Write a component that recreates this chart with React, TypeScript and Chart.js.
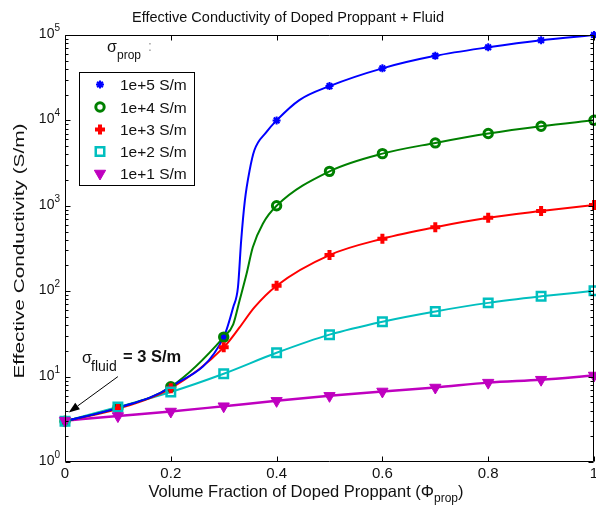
import React, { useEffect, useRef } from 'react';
import { Chart, registerables } from 'chart.js';
import { drawPoint } from 'chart.js/helpers';

Chart.register(...registerables);

// ---------- data ----------
const phi = [0, 0.1, 0.2, 0.3, 0.4, 0.5, 0.6, 0.7, 0.8, 0.9, 1.0];
const seriesLabels = ['1e+5 S/m', '1e+4 S/m', '1e+3 S/m', '1e+2 S/m', '1e+1 S/m'];

const sigma1e5 = [3.0, 4.3, 7.6, 29, 10000, 25200, 40700, 57000, 71800, 87000, 100000];
const sigma1e4 = [3.0, 4.3, 7.6, 29, 1000, 2530, 4080, 5450, 7020, 8550, 10050];
const sigma1e3 = [3.0, 4.2, 7.3, 22, 116, 265, 411, 562, 724, 867, 1020];
const sigma1e2 = [3.0, 4.4, 6.6, 10.8, 19, 31, 44, 58, 73, 87, 101];
const sigma1e1 = [3.05, 3.45, 3.9, 4.5, 5.2, 5.95, 6.7, 7.45, 8.5, 9.2, 10.3];

// extra samples of the smooth curves, read along the steep part
const curvePhi1e5 = [0.318, 0.327, 0.333, 0.34, 0.349, 0.358, 0.381, 0.443];
const curveSigma1e5 = [65, 112, 390, 1150, 2600, 4470, 7330, 17300];
const curvePhi1e4 = [0.318, 0.33, 0.343, 0.355, 0.374];
const curveSigma1e4 = [41, 78, 158, 327, 617];
const curvePhi1e3 = [0.33, 0.358];
const curveSigma1e3 = [37.7, 64.6];
const curvePhi1e2: number[] = [];
const curveSigma1e2: number[] = [];
const curvePhi1e1: number[] = [];
const curveSigma1e1: number[] = [];

const xTicks = [0, 0.2, 0.4, 0.6, 0.8, 1];
const xTickLabels = ['0', '0.2', '0.4', '0.6', '0.8', '1'];
const yTickExponents = ['0', '1', '2', '3', '4', '5'];

const titleText = 'Effective Conductivity of Doped Proppant + Fluid';
const yTitleText = 'Effective Conductivity (S/m)';
const xTitleMain = 'Volume Fraction of Doped Proppant (\u03A6';
const xTitleSub = 'prop';
const xTitleEnd = ')';
const legendHeadSym = '\u03C3';
const legendHeadSub = 'prop';
const fluidSym = '\u03C3';
const fluidSub = 'fluid';
const fluidText = '= 3 S/m';
const arrowTail = { x: 0.1, y: 10 };
const arrowTip = { x: 0.007, y: 3.8 };

// ---------- styling ----------
const FONT = '"Liberation Sans", Arial, Helvetica, sans-serif';
const TEXT = '#111';

const styles = [
  { color: '#0000ff', pointStyle: 'star', radius: 4, borderWidth: 2, fill: '#0000ff', rotation: 0, lineWidth: 2 },
  { color: '#008000', pointStyle: 'circle', radius: 4.2, borderWidth: 3, fill: 'rgba(0,0,0,0)', rotation: 0, lineWidth: 2 },
  { color: '#ff0000', pointStyle: 'cross', radius: 5, borderWidth: 4, fill: '#ff0000', rotation: 0, lineWidth: 2 },
  { color: '#00bfbf', pointStyle: 'rect', radius: 6, borderWidth: 2.5, fill: 'rgba(0,0,0,0)', rotation: 0, lineWidth: 2 },
  { color: '#bf00bf', pointStyle: 'triangle', radius: 6.5, borderWidth: 1, fill: '#bf00bf', rotation: 180, lineWidth: 2.5 },
];

const markerValues = [sigma1e5, sigma1e4, sigma1e3, sigma1e2, sigma1e1];
const curvePhis = [curvePhi1e5, curvePhi1e4, curvePhi1e3, curvePhi1e2, curvePhi1e1];
const curveSigmas = [curveSigma1e5, curveSigma1e4, curveSigma1e3, curveSigma1e2, curveSigma1e1];

type Part = { t: string; font: string; dy?: number; color?: string };

function drawRich(ctx: CanvasRenderingContext2D, parts: Part[], x: number, y: number, align: 'left' | 'center' | 'right') {
  let total = 0;
  const widths = parts.map((p) => {
    ctx.font = p.font;
    const w = ctx.measureText(p.t).width;
    total += w;
    return w;
  });
  let cx = align === 'center' ? x - total / 2 : align === 'right' ? x - total : x;
  ctx.textAlign = 'left';
  ctx.textBaseline = 'alphabetic';
  parts.forEach((p, i) => {
    ctx.font = p.font;
    ctx.fillStyle = p.color || TEXT;
    ctx.fillText(p.t, cx, y + (p.dy || 0));
    cx += widths[i];
  });
}

const decorPlugin = {
  id: 'decor',
  afterDatasetsDraw(chart: any) {
    const { ctx, chartArea: a, scales } = chart;
    const xs = scales.x;
    const ys = scales.y;
    const L = Math.round(a.left) + 0.5;
    const R = Math.round(a.right) - 0.5;
    const T = Math.round(a.top) + 0.5;
    const B = Math.round(a.bottom) - 0.5;
    ctx.save();

    // frame
    ctx.strokeStyle = '#000';
    ctx.lineWidth = 1;
    ctx.beginPath();
    ctx.rect(L, T, R - L, B - T);
    ctx.stroke();

    // x ticks
    ctx.beginPath();
    xTicks.forEach((v) => {
      const px = Math.round(xs.getPixelForValue(v)) + 0.5;
      ctx.moveTo(px, B);
      ctx.lineTo(px, B - 5);
      ctx.moveTo(px, T);
      ctx.lineTo(px, T + 5);
    });
    // y ticks (major + minor)
    for (let e = 0; e <= 5; e++) {
      for (let m = 1; m <= 9; m++) {
        if (e === 5 && m > 1) break;
        const v = m * Math.pow(10, e);
        const py = Math.round(ys.getPixelForValue(v)) + 0.5;
        const len = m === 1 ? 5 : 3;
        ctx.moveTo(L, py);
        ctx.lineTo(L + len, py);
        ctx.moveTo(R, py);
        ctx.lineTo(R - len, py);
      }
    }
    ctx.stroke();

    // x tick labels
    ctx.fillStyle = TEXT;
    ctx.font = `15px ${FONT}`;
    ctx.textAlign = 'center';
    ctx.textBaseline = 'alphabetic';
    xTicks.forEach((v, i) => {
      const px = xs.getPixelForValue(v);
      ctx.fillText(xTickLabels[i], px, 478);
    });

    // y tick labels 10^k
    yTickExponents.forEach((ex, i) => {
      const py = ys.getPixelForValue(Math.pow(10, i));
      ctx.font = `10px ${FONT}`;
      const sw = ctx.measureText(ex).width;
      const right = 60;
      ctx.textAlign = 'right';
      ctx.fillStyle = TEXT;
      ctx.fillText(ex, right, py - 4);
      ctx.font = `14px ${FONT}`;
      ctx.fillText('10', right - sw, py + 3);
    });

    // title
    ctx.font = `14.5px ${FONT}`;
    ctx.textAlign = 'center';
    ctx.fillStyle = TEXT;
    ctx.fillText(titleText, 288, 22);

    // x title
    drawRich(
      ctx,
      [
        { t: xTitleMain, font: `16.5px ${FONT}` },
        { t: xTitleSub, font: `12px ${FONT}`, dy: 5 },
        { t: xTitleEnd, font: `16.5px ${FONT}` },
      ],
      306,
      497,
      'center'
    );

    // y title (rotated)
    ctx.save();
    ctx.translate(24, 251);
    ctx.rotate(-Math.PI / 2);
    ctx.font = `15px ${FONT}`;
    const yw = ctx.measureText(yTitleText).width;
    ctx.scale(255 / yw, 1);
    ctx.textAlign = 'center';
    ctx.fillStyle = TEXT;
    ctx.fillText(yTitleText, 0, 0);
    ctx.restore();

    // legend header
    drawRich(ctx, [{ t: legendHeadSym, font: `16px ${FONT}` }], 107, 52, 'left');
    drawRich(ctx, [{ t: legendHeadSub, font: `12px ${FONT}` }], 117, 59, 'left');
    drawRich(ctx, [{ t: ':', font: `14px ${FONT}`, color: '#999' }], 148, 51, 'left');

    // legend box
    ctx.fillStyle = '#fff';
    ctx.fillRect(79.5, 72.5, 115, 113);
    ctx.strokeStyle = '#000';
    ctx.lineWidth = 1;
    ctx.strokeRect(79.5, 72.5, 115, 113);
    const rowY = [84.5, 107, 129.5, 151.5, 173.5];
    styles.forEach((s, i) => {
      ctx.save();
      ctx.fillStyle = s.fill;
      ctx.strokeStyle = s.color;
      ctx.lineWidth = s.borderWidth;
      drawPoint(ctx, { pointStyle: s.pointStyle as any, rotation: s.rotation, radius: s.radius, borderWidth: s.borderWidth }, 100, rowY[i]);
      ctx.restore();
      ctx.font = `15.5px ${FONT}`;
      ctx.textAlign = 'left';
      ctx.fillStyle = TEXT;
      ctx.fillText(seriesLabels[i], 120, rowY[i] + 5.5);
    });

    // fluid annotation
    drawRich(ctx, [{ t: fluidSym, font: `16px ${FONT}` }], 82, 363, 'left');
    drawRich(ctx, [{ t: fluidSub, font: `14px ${FONT}` }], 91, 371, 'left');
    drawRich(ctx, [{ t: fluidText, font: `bold 16.5px ${FONT}` }], 123, 362, 'left');

    // arrow
    const tx = xs.getPixelForValue(arrowTail.x);
    const ty = ys.getPixelForValue(arrowTail.y);
    const hx = xs.getPixelForValue(arrowTip.x);
    const hy = ys.getPixelForValue(arrowTip.y);
    const ang = Math.atan2(hy - ty, hx - tx);
    const hl = 11;
    const hw = 4;
    const bx = hx - hl * Math.cos(ang);
    const by = hy - hl * Math.sin(ang);
    ctx.strokeStyle = '#000';
    ctx.lineWidth = 1;
    ctx.beginPath();
    ctx.moveTo(tx, ty);
    ctx.lineTo(bx, by);
    ctx.stroke();
    ctx.fillStyle = '#000';
    ctx.beginPath();
    ctx.moveTo(hx, hy);
    ctx.lineTo(bx + hw * Math.sin(ang), by - hw * Math.cos(ang));
    ctx.lineTo(bx - hw * Math.sin(ang), by + hw * Math.cos(ang));
    ctx.closePath();
    ctx.fill();

    ctx.restore();
  },
};

export default function App() {
  const ref = useRef<HTMLCanvasElement>(null);
  useEffect(() => {
    document.body.style.margin = '0';
    document.body.style.overflow = 'hidden';
    const lineSets = styles.map((s, i) => {
      const pts = phi.map((x, j) => ({ x, y: markerValues[i][j] }));
      curvePhis[i].forEach((x, j) => pts.push({ x, y: curveSigmas[i][j] }));
      pts.sort((p, q) => p.x - q.x);
      return {
        label: seriesLabels[i] + ' curve',
        data: pts,
        showLine: true,
        borderColor: s.color,
        borderWidth: s.lineWidth,
        pointRadius: 0,
        cubicInterpolationMode: 'monotone' as const,
        fill: false,
        order: 10 + i,
      };
    });
    const markerSets = styles.map((s, i) => ({
      label: seriesLabels[i],
      data: phi.map((x, j) => ({ x, y: markerValues[i][j] })),
      showLine: false,
      pointStyle: s.pointStyle as any,
      pointRadius: s.radius,
      pointBorderWidth: s.borderWidth,
      pointBorderColor: s.color,
      pointBackgroundColor: s.fill,
      pointRotation: s.rotation,
      clip: false as any,
      order: 4 - i,
    }));
    const chart = new Chart(ref.current as HTMLCanvasElement, {
      type: 'scatter',
      data: { datasets: [...markerSets, ...lineSets] as any },
      options: {
        animation: false,
        responsive: false,
        events: [],
        layout: { autoPadding: false, padding: { left: 65, top: 35, right: 2, bottom: 46 } },
        plugins: { legend: { display: false }, title: { display: false }, tooltip: { enabled: false } },
        scales: {
          x: { type: 'linear', min: 0, max: 1, display: false },
          y: { type: 'logarithmic', min: 1, max: 100000, display: false },
        },
      },
      plugins: [decorPlugin],
    });
    return () => chart.destroy();
  }, []);
  return (
    <div style={{ width: 596, height: 508 }}>
      <canvas ref={ref} width={596} height={508} style={{ display: 'block' }} />
    </div>
  );
}
